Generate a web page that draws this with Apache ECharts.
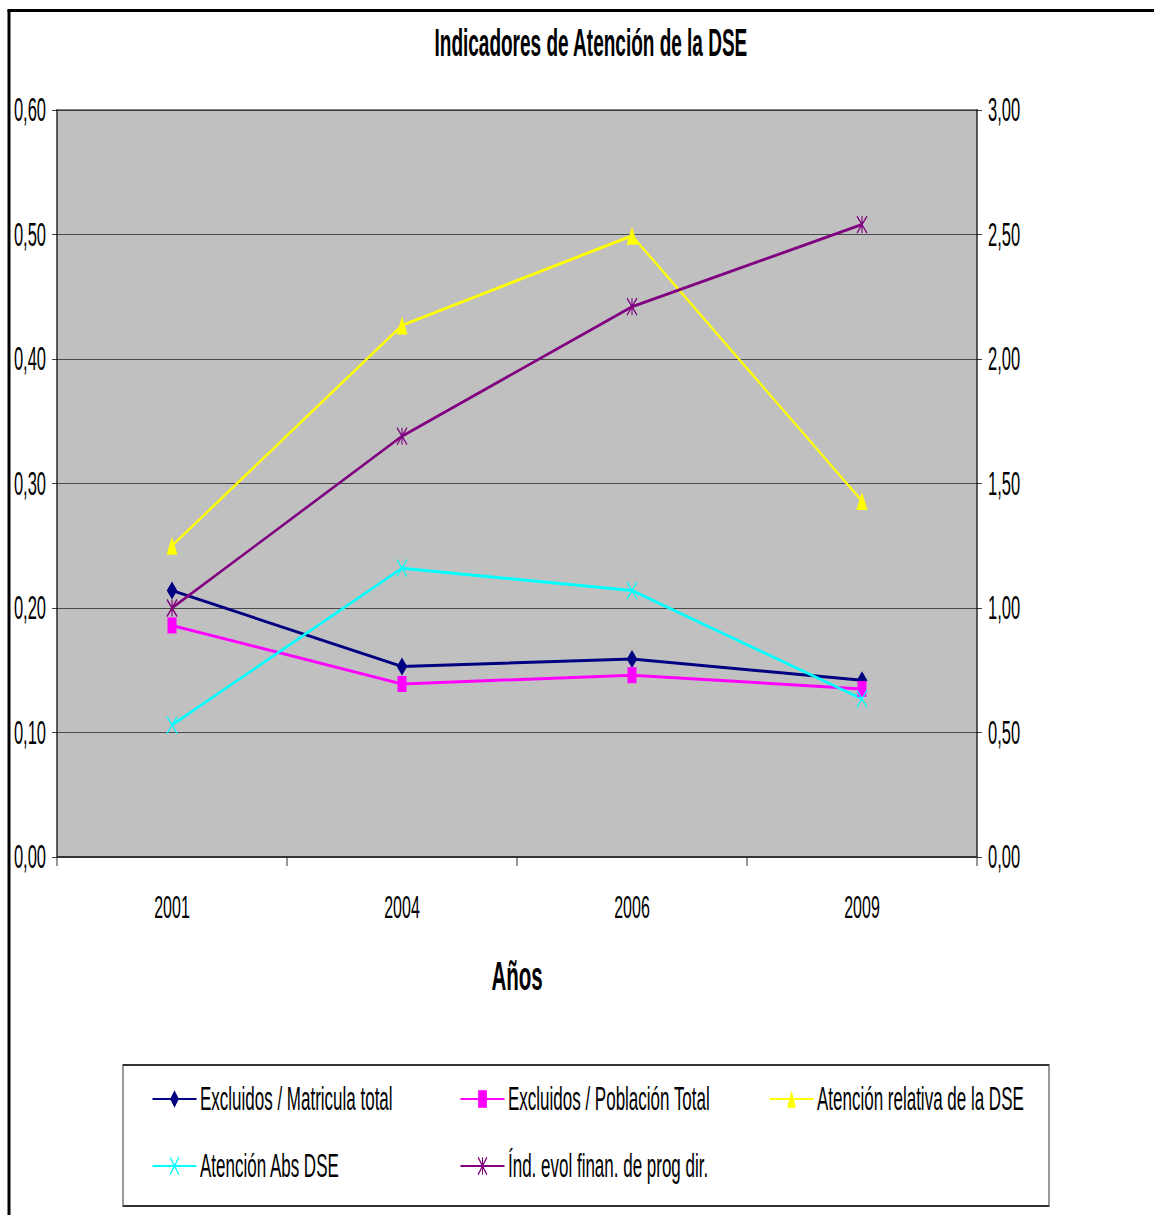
<!DOCTYPE html>
<html>
<head>
<meta charset="utf-8">
<script src="https://cdn.jsdelivr.net/npm/echarts@6/dist/echarts.min.js"></script>
<style>
html,body{margin:0;padding:0;overflow:hidden;background:#fff}
#wrap{width:1154px;height:1215px;overflow:hidden;position:relative}
#chart{width:2308px;height:1215px;transform:scaleX(0.5);transform-origin:0 0;position:absolute;left:0;top:0}
</style>
</head>
<body>
<div id="wrap"><div id="chart"></div></div>
<script>
// Data
const categories = ['2001', '2004', '2006', '2009'];
const excluidosMatricula = [0.214, 0.153, 0.159, 0.142];
const excluidosPoblacion = [0.186, 0.139, 0.146, 0.135];
const atencionRelativa = [0.250, 0.427, 0.499, 0.286];
const atencionAbs = [0.106, 0.232, 0.214, 0.127];
const indiceEvol = [1.00, 1.69, 2.21, 2.54]; // secondary (right) axis
const seriesNames = ['Excluidos / Matricula total', 'Excluidos / Población Total', 'Atención relativa de la DSE', 'Atención Abs DSE', 'Índ. evol finan. de prog dir.'];

const FONT = "'Liberation Sans', Arial, sans-serif";
const fmt = v => v.toFixed(2).replace('.', ',');
const xPath = 'path://M0,0L10,16M10,0L0,16';
const starPath = 'path://M0,0L10,16M10,0L0,16M5,0L5,16';

const chart = echarts.init(document.getElementById('chart'), null, {renderer: 'svg'});

function legendAt(name, left, top) {
  return {
    data: [name], left: left, top: top, padding: 0,
    itemWidth: 88, itemHeight: 22, selectedMode: false,
    textStyle: {fontFamily: FONT, fontSize: 34, color: '#000', padding: [0, 0, 0, 2]}
  };
}

const option = {
  backgroundColor: '#fff',
  animation: false,
  textStyle: {fontFamily: FONT},
  title: {
    text: 'Indicadores de Atención de la DSE',
    left: 864, top: 19,
    textStyle: {fontFamily: FONT, fontSize: 38, fontWeight: 'bold', color: '#000'}
  },
  legend: [
    legendAt(seriesNames[0], 304, 1082),
    legendAt(seriesNames[1], 920, 1082),
    legendAt(seriesNames[2], 1538, 1082),
    legendAt(seriesNames[3], 304, 1149),
    legendAt(seriesNames[4], 920, 1149)
  ],
  grid: {
    left: 114, right: 354, top: 110, bottom: 358,
    show: true, backgroundColor: '#C0C0C0', borderColor: '#808080', borderWidth: 2,
    containLabel: false
  },
  xAxis: {
    type: 'category', data: categories, boundaryGap: true,
    name: 'Años', nameLocation: 'middle', nameGap: 99,
    nameTextStyle: {fontFamily: FONT, fontSize: 41, fontWeight: 'bold', color: '#000'},
    axisLine: {show: true, lineStyle: {color: '#333', width: 2}},
    axisTick: {show: true, inside: false, length: 9, lineStyle: {color: '#333', width: 2}},
    axisLabel: {fontFamily: FONT, fontSize: 32, color: '#000', margin: 34},
    splitLine: {show: false}
  },
  yAxis: [
    {
      type: 'value', min: 0, max: 0.6, interval: 0.1, position: 'left',
      axisLine: {show: true, lineStyle: {color: '#000', width: 2}},
      axisTick: {show: true, inside: false, length: 10, lineStyle: {color: '#000', width: 1}},
      axisLabel: {fontFamily: FONT, fontSize: 33, color: '#000', margin: 22, formatter: fmt},
      splitLine: {show: true, lineStyle: {color: '#222', width: 1}}
    },
    {
      type: 'value', min: 0, max: 3, interval: 0.5, position: 'right',
      axisLine: {show: true, lineStyle: {color: '#000', width: 2}},
      axisTick: {show: true, inside: false, length: 10, lineStyle: {color: '#000', width: 1}},
      axisLabel: {fontFamily: FONT, fontSize: 33, color: '#000', margin: 22, formatter: fmt},
      splitLine: {show: false}
    }
  ],
  graphic: [
    {type: 'line', shape: {x1: 18, y1: 10, x2: 18, y2: 1215}, style: {stroke: '#000', lineWidth: 6}, silent: true},
    {type: 'line', shape: {x1: 15, y1: 10.5, x2: 2308, y2: 10.5}, style: {stroke: '#000', lineWidth: 3}, silent: true},
    {type: 'rect', shape: {x: 246, y: 1065, width: 1852, height: 141}, style: {fill: 'none', stroke: '#333', lineWidth: 2}, silent: true, z: -1}
  ],
  series: [
    {
      name: seriesNames[0], type: 'line', yAxisIndex: 0, data: excluidosMatricula,
      symbol: 'diamond', symbolSize: [21, 18], showAllSymbol: true,
      lineStyle: {color: '#000080', width: 3}, itemStyle: {color: '#000080'}, z: 3
    },
    {
      name: seriesNames[1], type: 'line', yAxisIndex: 0, data: excluidosPoblacion,
      symbol: 'rect', symbolSize: [18, 16],
      lineStyle: {color: '#FF00FF', width: 3}, itemStyle: {color: '#FF00FF'}, z: 3
    },
    {
      name: seriesNames[2], type: 'line', yAxisIndex: 0, data: atencionRelativa,
      symbol: 'triangle', symbolSize: [22, 18],
      lineStyle: {color: '#FFFF00', width: 3}, itemStyle: {color: '#FFFF00'}, z: 3
    },
    {
      name: seriesNames[3], type: 'line', yAxisIndex: 0, data: atencionAbs,
      symbol: xPath, symbolSize: [20, 17],
      lineStyle: {color: '#00FFFF', width: 3}, itemStyle: {color: '#00FFFF', borderColor: '#00FFFF', borderWidth: 2}, z: 3
    },
    {
      name: seriesNames[4], type: 'line', yAxisIndex: 1, data: indiceEvol,
      symbol: starPath, symbolSize: [20, 17],
      lineStyle: {color: '#800080', width: 3}, itemStyle: {color: '#800080', borderColor: '#800080', borderWidth: 2}, z: 3
    }
  ]
};
chart.setOption(option);
</script>
</body>
</html>
